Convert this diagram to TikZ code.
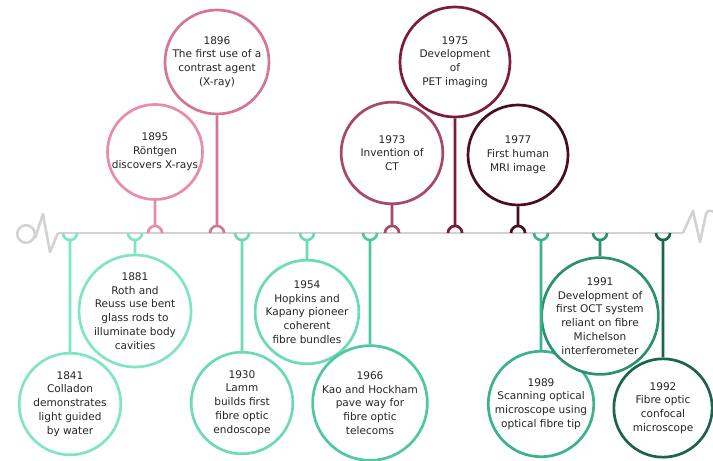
\documentclass[tikz,border=0pt]{standalone}
\usepackage{fontspec}
\setmainfont{DejaVu Sans}
\definecolor{mintA}{RGB}{128,228,198}
\definecolor{mintB}{RGB}{108,218,184}
\definecolor{mintC}{RGB}{78,200,160}
\definecolor{mintD}{RGB}{60,178,142}
\definecolor{mintE}{RGB}{45,145,113}
\definecolor{mintF}{RGB}{30,100,76}
\definecolor{roseA}{RGB}{230,140,172}
\definecolor{roseB}{RGB}{212,118,152}
\definecolor{roseC}{RGB}{168,72,104}
\definecolor{roseD}{RGB}{122,28,58}
\definecolor{roseE}{RGB}{72,14,32}
\definecolor{lineGray}{RGB}{210,210,210}

\begin{document}
\begin{tikzpicture}[x=0.03cm,y=-0.03cm,
    event/.style={circle,draw,line width=2.3pt,fill=white,minimum size=3.05cm,
        inner sep=0pt,align=center,font=\fontsize{9}{11.8}\selectfont,text=black!85},
    stem/.style={line width=2.3pt},
    axis/.style={line width=2.2pt,lineGray,line join=round}]
    \useasboundingbox (0,0) rectangle (713,461);
    \clip (0,0) rectangle (713,461);

    % Timeline with pulse ends
    \coordinate (start) at (58,233);
    \coordinate (stop) at (683,233);
    \draw[axis] (start) -- (stop);
    \draw[axis] (26,234) circle (7.5pt);
    \draw[axis] (35,238) -- (43,214) -- (50,252) -- (start);
    \draw[axis] (stop) -- (693,211) -- (700,242) -- (706,214)
        .. controls (709,207) and (717,211) .. (717,222);

    % Points on the timeline
    \coordinate (l1841) at (70,233);
    \coordinate (l1881) at (135,233);
    \coordinate (l1895) at (155,233);
    \coordinate (l1896) at (217,233);
    \coordinate (l1930) at (242,233);
    \coordinate (l1954) at (307,233);
    \coordinate (l1966) at (370,233);
    \coordinate (l1973) at (392,233);
    \coordinate (l1975) at (455,233);
    \coordinate (l1977) at (518,233);
    \coordinate (l1989) at (541,233);
    \coordinate (l1991) at (600,233);
    \coordinate (l1992) at (663,233);

    % Imaging events (above)
    \node[event,draw=roseA,minimum size=2.85cm] (e1895) at (155,152)
        {1895\\Röntgen\\discovers X-rays};
    \node[event,draw=roseB,minimum size=3.12cm] (e1896) at (217,62)
        {1896\\The first use of a\\contrast agent\\(X-ray)};
    \node[event,draw=roseC] (e1973) at (392,153) {1973\\Invention of\\CT};
    \node[event,draw=roseD,minimum size=3.3cm] (e1975) at (455,62)
        {1975\\Development\\of\\PET imaging};
    \node[event,draw=roseE,minimum size=3cm] (e1977) at (518,155)
        {1977\\First human\\MRI image};

    % Fibre optic events (below)
    \node[event,draw=mintA] (e1841) at (70,404)
        {1841\\Colladon\\demonstrates\\light guided\\by water};
    \node[event,draw=mintA] (e1881) at (135,311)
        {1881\\Roth and\\Reuss use bent\\glass rods to\\illuminate body\\cavities};
    \node[event,draw=mintB] (e1930) at (242,403)
        {1930\\Lamm\\builds first\\fibre optic\\endoscope};
    \node[event,draw=mintB] (e1954) at (307,312)
        {1954\\Hopkins and\\Kapany pioneer\\coherent\\fibre bundles};
    \node[event,draw=mintC] (e1966) at (370,403)
        {1966\\Kao and Hockham\\pave way for\\fibre optic\\telecoms};
    \node[event,draw=mintD,minimum size=3cm] (e1989) at (541,404)
        {1989\\Scanning optical\\microscope using\\optical fibre tip};
    \node[event,draw=mintE,minimum size=2.95cm] (e1991) at (600,316)
        {1991\\Development of\\first OCT system\\reliant on fibre\\Michelson\\interferometer};
    \node[event,draw=mintF,minimum size=2.95cm] (e1992) at (663,408)
        {1992\\Fibre optic\\confocal\\microscope};

    % Stems to the timeline (above)
    \draw[stem,roseA] (e1895.south) -- ([yshift=6pt]l1895)
        ([xshift=-6pt]l1895) arc (180:0:6pt);
    \draw[stem,roseB] (e1896.south) -- ([yshift=6pt]l1896)
        ([xshift=-6pt]l1896) arc (180:0:6pt);
    \draw[stem,roseC] (e1973.south) -- ([yshift=6pt]l1973)
        ([xshift=-6pt]l1973) arc (180:0:6pt);
    \draw[stem,roseD] (e1975.south) -- ([yshift=6pt]l1975)
        ([xshift=-6pt]l1975) arc (180:0:6pt);
    \draw[stem,roseE] (e1977.south) -- ([yshift=6pt]l1977)
        ([xshift=-6pt]l1977) arc (180:0:6pt);

    % Stems to the timeline (below)
    \draw[stem,mintA] (e1841.north) -- ([yshift=-6pt]l1841)
        ([xshift=-6pt]l1841) arc (180:360:6pt);
    \draw[stem,mintA] (e1881.north) -- ([yshift=-6pt]l1881)
        ([xshift=-6pt]l1881) arc (180:360:6pt);
    \draw[stem,mintB] (e1930.north) -- ([yshift=-6pt]l1930)
        ([xshift=-6pt]l1930) arc (180:360:6pt);
    \draw[stem,mintB] (e1954.north) -- ([yshift=-6pt]l1954)
        ([xshift=-6pt]l1954) arc (180:360:6pt);
    \draw[stem,mintC] (e1966.north) -- ([yshift=-6pt]l1966)
        ([xshift=-6pt]l1966) arc (180:360:6pt);
    \draw[stem,mintD] (e1989.north) -- ([yshift=-6pt]l1989)
        ([xshift=-6pt]l1989) arc (180:360:6pt);
    \draw[stem,mintE] (e1991.north) -- ([yshift=-6pt]l1991)
        ([xshift=-6pt]l1991) arc (180:360:6pt);
    \draw[stem,mintF] (e1992.north) -- ([yshift=-6pt]l1992)
        ([xshift=-6pt]l1992) arc (180:360:6pt);
\end{tikzpicture}
\end{document}
